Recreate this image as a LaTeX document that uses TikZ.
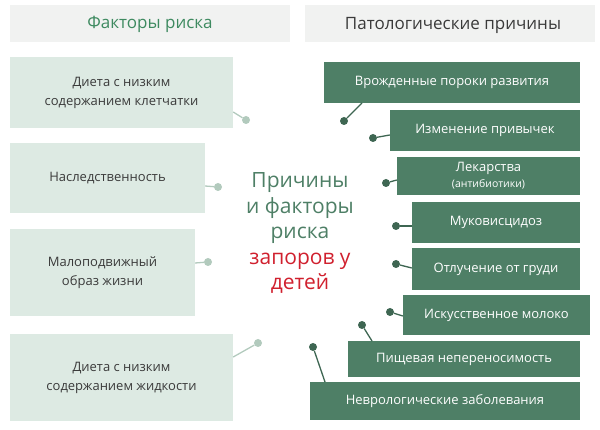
\documentclass[tikz,border=0pt]{standalone}
\usepackage{fontspec}
\setmainfont{Open Sans}
\definecolor{darkgr}{HTML}{4E7F66}
\definecolor{lightgr}{HTML}{DDEAE3}
\definecolor{headgr}{HTML}{F1F2F1}
\definecolor{titlegr}{HTML}{3E8A60}
\definecolor{txtgray}{HTML}{3A3A3A}
\definecolor{redtxt}{HTML}{D0202E}
\tikzset{
  head/.style={fill=headgr, font=\fontsize{17}{20}\selectfont},
  riskbox/.style={fill=lightgr, text=txtgray, align=center, font=\fontsize{13}{19}\selectfont},
  causebox/.style={fill=darkgr, text=white, align=center, font=\fontsize{13}{16}\selectfont},
  riskdot/.style={circle, fill=lightgr!70!darkgr, inner sep=0pt, minimum size=8pt},
  causedot/.style={circle, fill=darkgr!80!black, inner sep=0pt, minimum size=8pt},
  risklink/.style={draw=lightgr!70!darkgr, line width=1.3pt},
  causelink/.style={draw=darkgr!80!black, line width=1.3pt}
}
\newcommand{\pbox}[5]{\fill[#1] (#2) rectangle (#3); \node[text=#4] at ($(#2)!0.5!(#3)$) {#5};}
\usetikzlibrary{calc}
\begin{document}
\begin{tikzpicture}[x=1pt,y=-1pt]
  \useasboundingbox (0,0) rectangle (600,430);
  % headers
  \fill[headgr] (10,5) rectangle (290,42);
  \node[text=titlegr, font=\fontsize{17}{20}\selectfont] (hl) at (150,24) {Факторы риска};
  \fill[headgr] (305,5) rectangle (595,42);
  \node[text=txtgray, font=\fontsize{17}{20}\selectfont] (hr) at (453,25) {Патологические причины};
  % risk factors
  \node[riskbox, minimum width=223pt, minimum height=71pt] (r1) at (121.5,92.5) {Диета с низким\\содержанием клетчатки};
  \node[riskbox, minimum width=195pt, minimum height=70pt] (r2) at (107.5,178) {Наследственность};
  \node[riskbox, minimum width=185pt, minimum height=87pt] (r3) at (102.5,272.5) {Малоподвижный\\образ жизни};
  \node[riskbox, minimum width=223pt, minimum height=87pt] (r4) at (121.5,377.5) {Диета с низким\\содержанием жидкости};
  \node[riskdot] (d1) at (246,120) {};
  \node[riskdot] (d2) at (218,187) {};
  \node[riskdot] (d3) at (208,262) {};
  \node[riskdot] (d4) at (258,343) {};
  \draw[risklink] (r1.east |- 0,112) -- (d1);
  \draw[risklink] (r2.east |- 0,186) -- (d2);
  \draw[risklink] (r3.east |- 0,263) -- (d3);
  \draw[risklink] (r4.east |- 0,357) -- (d4);
  % centre
  \node[align=center, text=darkgr, font=\fontsize{21}{25.5}\selectfont] (mid) at (300,233)
    {Причины\\и факторы\\риска\\\textcolor{redtxt}{запоров у}\\\textcolor{redtxt}{детей}};
  % causes
  \node[causebox, minimum width=256pt, minimum height=41pt] (c1) at (452,82.5) {Врожденные пороки развития};
  \node[causebox, minimum width=190pt, minimum height=41pt] (c2) at (485,130.5) {Изменение привычек};
  \node[causebox, minimum width=183pt, minimum height=38pt] (c3) at (488.5,176) {Лекарства\\{\fontsize{10.5}{12}\selectfont(антибиотики)}};
  \node[causebox, minimum width=168pt, minimum height=41pt] (c4) at (496,222.5) {Муковисцидоз};
  \node[causebox, minimum width=168pt, minimum height=42pt] (c5) at (496,269) {Отлучение от груди};
  \node[causebox, minimum width=187pt, minimum height=40pt] (c6) at (496.5,315) {Искусственное молоко};
  \node[causebox, minimum width=232pt, minimum height=36pt] (c7) at (464,359) {Пищевая непереносимость};
  \node[causebox, minimum width=270pt, minimum height=38pt] (c8) at (445,401) {Неврологические заболевания};
  \node[causedot] (e1) at (344,121) {};
  \node[causedot] (e2) at (373,138) {};
  \node[causedot] (e3) at (386,183) {};
  \node[causedot] (e4) at (396,226) {};
  \node[causedot] (e5) at (396,264) {};
  \node[causedot] (e6) at (390,312) {};
  \node[causedot] (e7) at (362,325) {};
  \node[causedot] (e8) at (313,347) {};
  \draw[causelink] (e1) -- (362,103);
  \draw[causelink] (e2) -- (c2.west |- 0,135);
  \draw[causelink] (e3) -- (c3.west |- 0,180);
  \draw[causelink] (e4) -- (c4.west |- 0,226);
  \draw[causelink] (e5) -- (c5.west |- 0,268);
  \draw[causelink] (e6) -- (c6.west |- 0,316);
  \draw[causelink] (e7) -- (372,341);
  \draw[causelink] (e8) -- (325,382);
\end{tikzpicture}
\end{document}
